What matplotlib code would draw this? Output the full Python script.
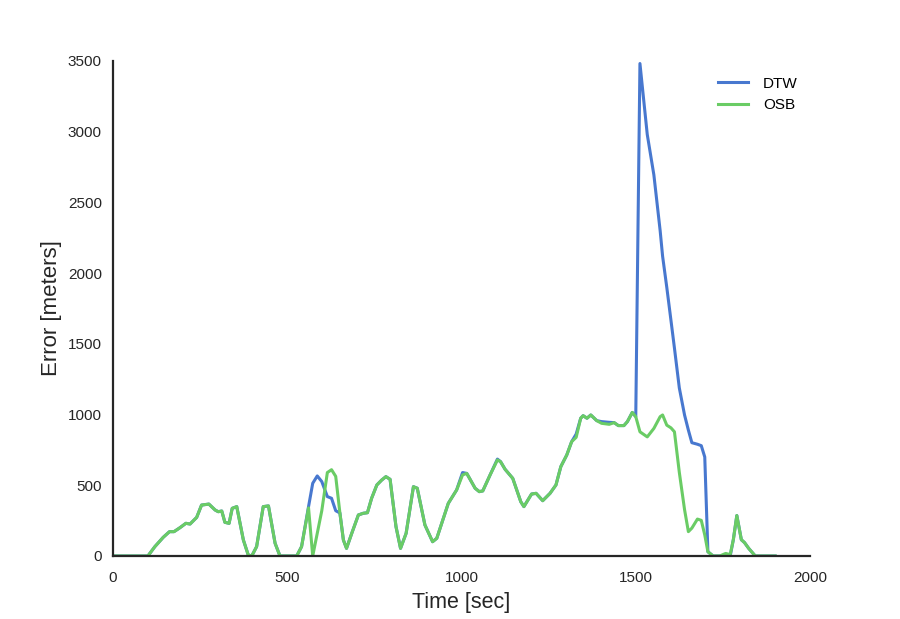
import matplotlib.pyplot as plt

# time stamps [sec] and error [meters]
time_sec = [0, 100, 120, 144, 162, 175, 192, 209, 221, 240, 254, 275, 293, 302, 312,
            321, 333, 342, 355, 374, 388, 398, 412, 431, 446, 465, 479, 527, 541, 561,
            573, 586, 599, 615, 627, 639, 651, 661, 670, 685, 704, 718, 730, 742, 757,
            771, 783, 795, 812, 825, 841, 862, 873, 895, 917, 929, 962, 986, 1003, 1015,
            1039, 1051, 1061, 1082, 1103, 1112, 1125, 1147, 1170, 1179, 1201, 1214, 1233, 1254, 1271,
            1285, 1302, 1316, 1329, 1342, 1349, 1360, 1371, 1388, 1402, 1424, 1438, 1450, 1466, 1476,
            1490, 1500, 1512, 1533, 1552, 1570, 1577, 1589, 1601, 1611, 1625, 1640, 1651, 1661, 1677,
            1688, 1698, 1707, 1722, 1741, 1758, 1771, 1780, 1790, 1803, 1812, 1824, 1843, 1900]

osb_err = [0, 0, 66, 132, 172, 172, 200, 231, 226, 273, 360, 367, 325, 313, 318,
           238, 231, 337, 349, 113, 7, 0, 66, 349, 354, 90, 0, 0, 66, 340,
           0, 160, 320, 590, 610, 563, 304, 113, 54, 160, 290, 302, 306, 408, 502,
           537, 561, 542, 207, 54, 160, 490, 479, 219, 101, 125, 372, 467, 573, 584,
           479, 455, 460, 573, 679, 667, 613, 549, 384, 349, 438, 443, 391, 443, 502,
           632, 714, 808, 839, 974, 992, 974, 997, 957, 938, 931, 943, 922, 922, 950,
           1015, 985, 878, 842, 902, 985, 997, 925, 906, 878, 591, 328, 172, 197, 261,
           252, 149, 30, 0, 0, 18, 10, 115, 286, 115, 95, 54, 0, 0]

dtw_err = [0, 0, 66, 132, 172, 172, 200, 231, 226, 273, 360, 367, 325, 313, 318,
           238, 231, 337, 349, 113, 7, 0, 66, 349, 354, 90, 0, 0, 66, 349,
           514, 566, 526, 420, 408, 320, 304, 113, 54, 160, 290, 302, 306, 408, 502,
           537, 561, 542, 207, 54, 160, 490, 479, 219, 101, 125, 372, 467, 590, 584,
           479, 455, 460, 573, 685, 667, 613, 549, 384, 349, 438, 443, 391, 443, 502,
           632, 714, 808, 862, 974, 992, 974, 997, 957, 950, 945, 943, 922, 922, 950,
           1015, 985, 3482, 2980, 2694, 2300, 2120, 1900, 1666, 1470, 1188, 997, 890, 801, 790,
           780, 700, 30, 0, 0, 0, 0, 115, 286, 115, 95, 54, 0, 0]

plt.rcParams['font.family'] = ['Liberation Sans', 'DejaVu Sans']

fig = plt.figure(figsize=(9, 6.19), dpi=100)
ax = fig.add_axes([0.1256, 0.1018, 0.7744, 0.7997])

ax.plot(time_sec, dtw_err, color='#4878CF', lw=2.2, label='DTW')
ax.plot(time_sec, osb_err, color='#6ACC65', lw=2.2, label='OSB')

ax.set_xlim(0, 2000)
ax.set_ylim(0, 3500)
ax.set_xticks([0, 500, 1000, 1500, 2000])
ax.set_yticks(range(0, 3501, 500))
ax.tick_params(length=0, labelsize=11, colors='#262626', pad=8)
ax.tick_params(axis='x', pad=11)
ax.set_xlabel('Time [sec]', fontsize=15.5, color='#262626', labelpad=5)
ax.set_ylabel('Error [meters]', fontsize=16, color='#262626', labelpad=4)

for side in ['top', 'right']:
    ax.spines[side].set_visible(False)
for side in ['left', 'bottom']:
    ax.spines[side].set_color('#262626')
    ax.spines[side].set_linewidth(1.6)

ax.legend(loc='upper right', frameon=False, fontsize=11, handlelength=2.0,
          handletextpad=0.95, bbox_to_anchor=(1.002, 0.996))

fig.savefig('out.png', dpi=100)
